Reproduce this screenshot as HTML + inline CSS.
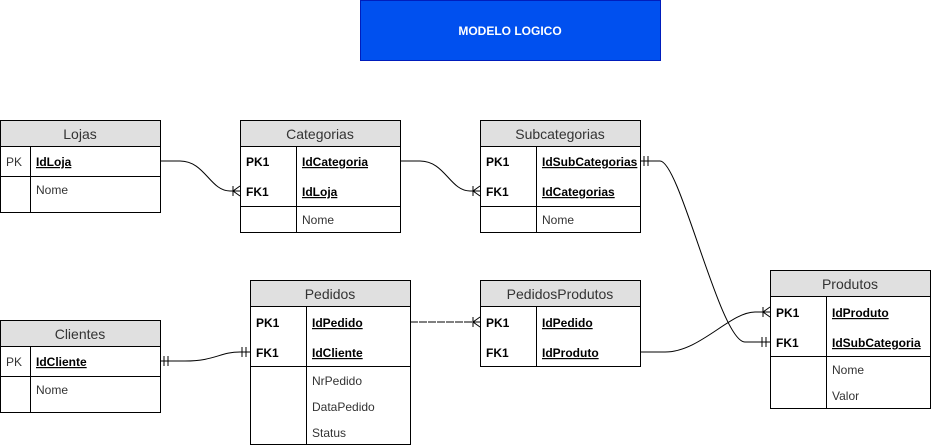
<!DOCTYPE html>
<html><head><meta charset="utf-8"><style>
html,body{margin:0;padding:0;background:#fff;}
svg{display:block;font-family:"Liberation Sans",Arial,sans-serif;}
.h{font-size:14px;fill:#333;text-anchor:middle}
.k{font-size:12px;font-weight:bold;fill:#000}
.f{font-size:12px;fill:#333}
.u{font-size:12px;font-weight:bold;fill:#000;text-decoration:underline}
.n{font-size:12px;fill:#333}
</style></head><body>
<svg width="931" height="448" viewBox="0 0 931 448" xmlns="http://www.w3.org/2000/svg">
<rect x="360.5" y="0.5" width="300" height="60" fill="#0050EF" stroke="#001DBC"/>
<text x="510" y="35" text-anchor="middle" font-size="12" font-weight="bold" fill="#fff">MODELO LOGICO</text>

<g stroke="#000" fill="none">
<!-- Lojas -->
<rect x="0.5" y="120.5" width="160" height="26" fill="#e0e0e0"/>
<rect x="0.5" y="146.5" width="160" height="66" fill="#fff"/>
<line x1="0" y1="176.5" x2="160" y2="176.5"/><line x1="30.5" y1="146" x2="30.5" y2="212"/>
<!-- Categorias -->
<rect x="240.5" y="120.5" width="160" height="26" fill="#e0e0e0"/>
<rect x="240.5" y="146.5" width="160" height="86" fill="#fff"/>
<line x1="240" y1="206.5" x2="400" y2="206.5"/><line x1="296.5" y1="146" x2="296.5" y2="232"/>
<!-- Subcategorias -->
<rect x="480.5" y="120.5" width="160" height="26" fill="#e0e0e0"/>
<rect x="480.5" y="146.5" width="160" height="86" fill="#fff"/>
<line x1="480" y1="206.5" x2="640" y2="206.5"/><line x1="536.5" y1="146" x2="536.5" y2="232"/>
<!-- Clientes -->
<rect x="0.5" y="320.5" width="160" height="26" fill="#e0e0e0"/>
<rect x="0.5" y="346.5" width="160" height="66" fill="#fff"/>
<line x1="0" y1="376.5" x2="160" y2="376.5"/><line x1="30.5" y1="346" x2="30.5" y2="412"/>
<!-- Pedidos -->
<rect x="250.5" y="280.5" width="160" height="26" fill="#e0e0e0"/>
<rect x="250.5" y="306.5" width="160" height="138" fill="#fff"/>
<line x1="250" y1="366.5" x2="410" y2="366.5"/><line x1="306.5" y1="306" x2="306.5" y2="444"/>
<!-- PedidosProdutos -->
<rect x="480.5" y="280.5" width="160" height="26" fill="#e0e0e0"/>
<rect x="480.5" y="306.5" width="160" height="60" fill="#fff"/>
<line x1="536.5" y1="306" x2="536.5" y2="366"/>
<!-- Produtos -->
<rect x="770.5" y="270.5" width="160" height="26" fill="#e0e0e0"/>
<rect x="770.5" y="296.5" width="160" height="112" fill="#fff"/>
<line x1="770" y1="356.5" x2="930" y2="356.5"/><line x1="826.5" y1="296" x2="826.5" y2="408"/>

<!-- connectors -->
<path d="M160,161 L180,161 C205,161 210,191 230,191 L240,191"/>
<path d="M240,186 L233,191 L240,196 M233,186 L233,196"/>
<path d="M400,161 L420,161 C445,161 450,191 470,191 L480,191"/>
<path d="M480,186 L473,191 L480,196 M473,186 L473,196"/>
<path d="M640,161 L660,161 C680,161 720,342 745,342 L770,342"/>
<path d="M644,156 L644,166 M648,156 L648,166 M762,337 L762,347 M766,337 L766,347"/>
<path d="M160,361 L185,361 C215,361 220,352 240,352 L250,352"/>
<path d="M164,356 L164,366 M168,356 L168,366 M242,347 L242,357 M246,347 L246,357"/>
<path d="M410,322 L480,322" stroke-dasharray="8,1"/>
<path d="M480,317 L473,322 L480,327 M473,317 L473,327"/>
<path d="M640,352 L665,352 C700,352 730,312 755,312 L770,312"/>
<path d="M770,307 L763,312 L770,317 M763,307 L763,317"/>
</g>

<text class="h" x="80" y="139">Lojas</text>
<text class="f" x="6" y="166">PK</text><text class="u" x="36" y="166">IdLoja</text>
<text class="n" x="36" y="194">Nome</text>

<text class="h" x="320" y="139">Categorias</text>
<text class="k" x="246" y="166">PK1</text><text class="u" x="302" y="166">IdCategoria</text>
<text class="k" x="246" y="196">FK1</text><text class="u" x="302" y="196">IdLoja</text>
<text class="n" x="302" y="224">Nome</text>

<text class="h" x="560" y="139">Subcategorias</text>
<text class="k" x="486" y="166">PK1</text><text class="u" x="542" y="166">IdSubCategorias</text>
<text class="k" x="486" y="196">FK1</text><text class="u" x="542" y="196">IdCategorias</text>
<text class="n" x="542" y="224">Nome</text>

<text class="h" x="80" y="339">Clientes</text>
<text class="f" x="6" y="366">PK</text><text class="u" x="36" y="366">IdCliente</text>
<text class="n" x="36" y="394">Nome</text>

<text class="h" x="330" y="299">Pedidos</text>
<text class="k" x="256" y="327">PK1</text><text class="u" x="312" y="327">IdPedido</text>
<text class="k" x="256" y="357">FK1</text><text class="u" x="312" y="357">IdCliente</text>
<text class="n" x="312" y="385">NrPedido</text>
<text class="n" x="312" y="411">DataPedido</text>
<text class="n" x="312" y="437">Status</text>

<text class="h" x="560" y="299">PedidosProdutos</text>
<text class="k" x="486" y="327">PK1</text><text class="u" x="542" y="327">IdPedido</text>
<text class="k" x="486" y="357">FK1</text><text class="u" x="542" y="357">IdProduto</text>

<text class="h" x="850" y="289">Produtos</text>
<text class="k" x="776" y="317">PK1</text><text class="u" x="832" y="317">IdProduto</text>
<text class="k" x="776" y="347">FK1</text><text class="u" x="832" y="347">IdSubCategoria</text>
<text class="n" x="832" y="374">Nome</text>
<text class="n" x="832" y="400">Valor</text>
</svg>
</body></html>
